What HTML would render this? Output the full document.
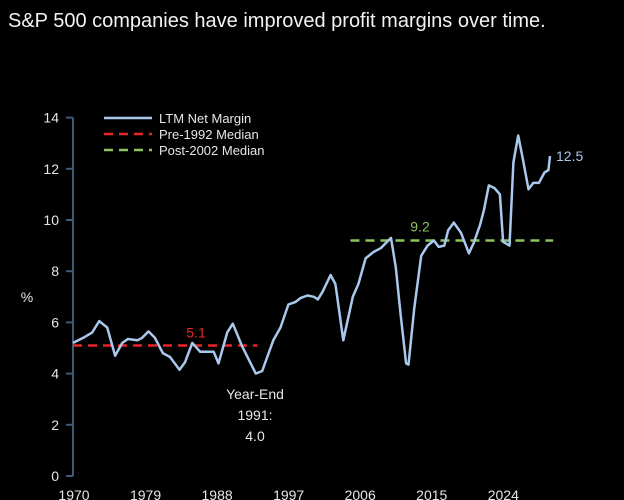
<!DOCTYPE html>
<html><head><meta charset="utf-8"><style>
body{margin:0;background:#000;width:624px;height:500px;overflow:hidden;font-family:"Liberation Sans",sans-serif}
svg{position:absolute;left:0;top:0}
</style></head><body>
<svg id="c" width="624" height="500">
<text x="8" y="27" fill="#f2f2f2" font-size="20">S&amp;P 500 companies have improved profit margins over time.</text>
</svg>
<script>
const years=[1970,1971.3,1972.4,1973.3,1974.3,1975.3,1976.2,1976.9,1978.1,1978.7,1979.5,1980.3,1981.3,1982.2,1983.4,1984.1,1985.0,1986.0,1987.7,1988.3,1989.4,1990.1,1991.3,1993.0,1993.8,1995.2,1996.1,1997.1,1998.0,1998.6,1999.5,2000.3,2000.8,2001.4,2002.4,2003.0,2004.0,2005.2,2005.9,2006.8,2007.8,2008.7,2010.0,2010.6,2011.2,2011.9,2012.2,2012.9,2013.8,2014.6,2015.4,2016.0,2016.7,2017.2,2017.9,2018.8,2019.8,2020.4,2021.2,2021.7,2022.3,2023.0,2023.7,2024.1,2024.9,2025.4,2026.0,2026.6,2027.3,2027.9,2028.6,2029.3,2029.8,2030.0];
const margins=[5.2,5.4,5.6,6.05,5.8,4.7,5.2,5.35,5.3,5.4,5.65,5.4,4.8,4.65,4.15,4.45,5.2,4.85,4.85,4.4,5.6,5.95,5.05,4.0,4.1,5.3,5.8,6.7,6.8,6.95,7.05,7.0,6.9,7.2,7.85,7.5,5.3,7.0,7.5,8.5,8.75,8.9,9.3,8.15,6.35,4.4,4.35,6.5,8.6,9.0,9.2,8.95,9.0,9.6,9.9,9.5,8.7,9.1,9.8,10.4,11.35,11.25,11.0,9.15,9.0,12.25,13.3,12.35,11.2,11.45,11.45,11.85,11.95,12.5];
const yTicks=[0,2,4,6,8,10,12,14];
const xTickLabels=[1970,1979,1988,1997,2006,2015,2024];
const preMedian=5.1, preSpan=[1970,1993.2];
const postMedian=9.2, postSpan=[2004.9,2030.4];
const NS='http://www.w3.org/2000/svg', svg=document.getElementById('c');
const X=y=>73+(y-1970)*7.95, Y=v=>476-v*25.6;
function mk(t,a,txt){const e=document.createElementNS(NS,t);for(const k in a)e.setAttribute(k,a[k]);if(txt!==undefined)e.textContent=txt;svg.appendChild(e);return e;}
const ax=mk('line',{x1:73,x2:73,y1:Y(14),y2:Y(0),stroke:'#3f5a78','stroke-width':2});


yTicks.forEach(v=>{
 const t=mk('line',{x1:66,x2:73,y1:Y(v),y2:Y(v),stroke:'#3f5a78','stroke-width':2});
 
 
 const l=mk('text',{x:59,y:Y(v)+5,fill:'#e6e6e6','font-size':14,'text-anchor':'end'},v);
 
 
});
xTickLabels.forEach(v=>{
 const l=mk('text',{x:X(v)+1,y:500,fill:'#e6e6e6','font-size':14,'text-anchor':'middle'},v);
 
 
});
const yt=mk('text',{x:27,y:302,fill:'#e6e6e6','font-size':14,'text-anchor':'middle'},'%');


const r=mk('line',{x1:X(preSpan[0]),x2:X(preSpan[1]),y1:Y(preMedian),y2:Y(preMedian),stroke:'#e8242b','stroke-width':2.5,'stroke-dasharray':'9 6'});


const g=mk('line',{x1:X(postSpan[0]),x2:X(postSpan[1]),y1:Y(postMedian),y2:Y(postMedian),stroke:'#8cc360','stroke-width':2.5,'stroke-dasharray':'9 6'});


const p=mk('path',{d:years.map((y,i)=>(i?'L':'M')+X(y).toFixed(1)+','+Y(margins[i]).toFixed(1)).join(''),fill:'none',stroke:'#a9c8ec','stroke-width':2.5,'stroke-linejoin':'round'});


const a1=mk('text',{x:196,y:Y(preMedian)-8,fill:'#e8242b','font-size':14,'text-anchor':'middle'},'5.1');


const a2=mk('text',{x:420,y:Y(postMedian)-9,fill:'#8cc360','font-size':14,'text-anchor':'middle'},'9.2');


const a3=mk('text',{x:556,y:Y(margins[margins.length-1])+5,fill:'#a9c8ec','font-size':14},'12.5');


['Year-End','1991:','4.0'].forEach((s,i)=>{
 const t=mk('text',{x:255,y:399+i*21,fill:'#e6e6e6','font-size':14,'text-anchor':'middle'},s);
 
 
});
[['LTM Net Margin','#a9c8ec',null],['Pre-1992 Median','#e8242b','9 6'],['Post-2002 Median','#8cc360','9 6']].forEach((e,i)=>{
 const yy=118+i*16;
 const ln=mk('line',{x1:104,x2:152,y1:yy,y2:yy,stroke:e[1],'stroke-width':2.5});
 if(e[2])ln.setAttribute('stroke-dasharray',e[2]);
 
 
 const t=mk('text',{x:159,y:yy+5,fill:'#e6e6e6','font-size':13},e[0]);
 
 
});
</script>
</body></html>
